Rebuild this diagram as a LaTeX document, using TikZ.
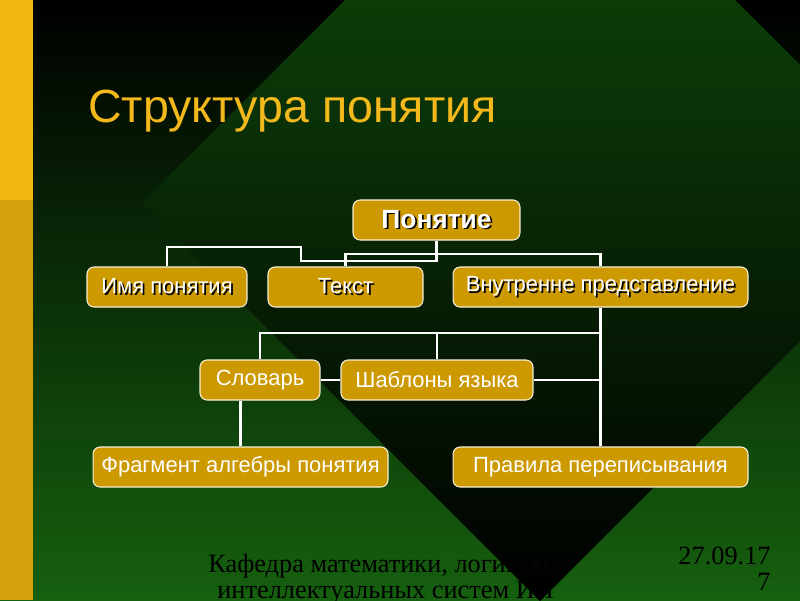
\documentclass[tikz,border=0pt]{standalone}
\usepackage{fontspec}
\setmainfont{Liberation Serif}
\newfontfamily\arialf{Liberation Sans}
\usetikzlibrary{calc}

\definecolor{gold}{HTML}{CC9900}
\definecolor{titlecol}{HTML}{F2B81C}
\definecolor{stripTop}{HTML}{F2B915}
\definecolor{stripBot}{HTML}{D4A10A}
\definecolor{bgmid}{HTML}{06280A}
\definecolor{bgbot}{HTML}{16600F}
\definecolor{dtop}{HTML}{11500B}
\definecolor{dmid}{HTML}{0A3507}

\newcommand\shadowed[1]{\makebox[0pt][l]{\kern1pt\raisebox{-1pt}{\color{black}#1}}#1}

\tikzset{
  cbox/.style={draw=white!85!gold, line width=0.6pt, fill=gold, rounded corners=4pt,
    inner sep=0pt, minimum height=8mm, text=white,
    font=\arialf\fontsize{12.5}{14}\selectfont},
  link/.style={draw=white, line width=1.4pt}
}

\begin{document}
\begin{tikzpicture}[x=0.02cm,y=-0.02cm]
  \useasboundingbox (0,0) rectangle (800,600);

  %background
  \shade[top color=black, middle color=bgmid, bottom color=bgbot] (0,0) rectangle (800,600);
  \shade[top color=dtop, middle color=dmid, bottom color=black]
    (540,-195) -- (938,203) -- (540,601) -- (142,203) -- cycle;
  \fill[stripTop] (0,0) rectangle (33,200);
  \fill[stripBot] (0,200) rectangle (33,600);

  %title
  \node[anchor=base west, inner sep=0, text=titlecol,
    font=\arialf\fontsize{26.5}{30}\selectfont] (title) at (88,122) {Структура понятия};

  %boxes
  \node[cbox, minimum width=33.4mm, font=\arialf\bfseries\fontsize{15}{17}\selectfont]
    (ponyatie) at (436.5,220) {\shadowed{Понятие}};
  \node[cbox, minimum width=32mm] (imya) at (167,287) {\shadowed{Имя понятия}};
  \node[cbox, minimum width=31mm] (tekst) at (345.5,287) {\shadowed{Текст}};
  \node[cbox, minimum width=59mm] (vnutr) at (600.5,287) {\shadowed{Внутренне представление}};
  \node[cbox, minimum width=24mm] (slovar) at (260,380) {Словарь};
  \node[cbox, minimum width=38.4mm] (shablon) at (437,380) {Шаблоны языка};
  \node[cbox, minimum width=59mm] (fragment) at (240.5,467) {Фрагмент алгебры понятия};
  \node[cbox, minimum width=59mm] (pravila) at (600.5,467) {Правила переписывания};

  %connections
  \coordinate (fork) at (ponyatie.south |- 0,254);
  \draw[link] (ponyatie.south) |- (301,261) -- (301,247) -| (imya.north);
  \draw[link] (ponyatie.south) -- (fork) -| (tekst.north);
  \draw[link] (fork) -| (vnutr.north);

  \coordinate (split) at (vnutr.south |- 0,333);
  \draw[link] (vnutr) -- (pravila);
  \draw[link] (split) -| (slovar.north);
  \draw[link] (shablon.north) -- (shablon.north |- split);
  \draw[link] (shablon.east) -- (shablon.east -| vnutr.south);
  \draw[link] (slovar) -- (shablon);
  \draw[link] (slovar.south -| fragment.north) -- (fragment.north);

  %footer
  \node[anchor=base west, inner sep=0, font=\fontsize{15}{15}\selectfont] (dept1)
    at (208,572) {Кафедра математики, логики и};
  \node[anchor=base west, inner sep=0, font=\fontsize{15}{15}\selectfont] (dept2)
    at (217,598) {интеллектуальных систем ИИ};
  \node[anchor=base east, inner sep=0, font=\fontsize{15}{15}\selectfont] (date)
    at (771,564) {27.09.17};
  \node[anchor=base east, inner sep=0, font=\fontsize{15}{15}\selectfont] (page)
    at (771,590) {7};
\end{tikzpicture}
\end{document}
